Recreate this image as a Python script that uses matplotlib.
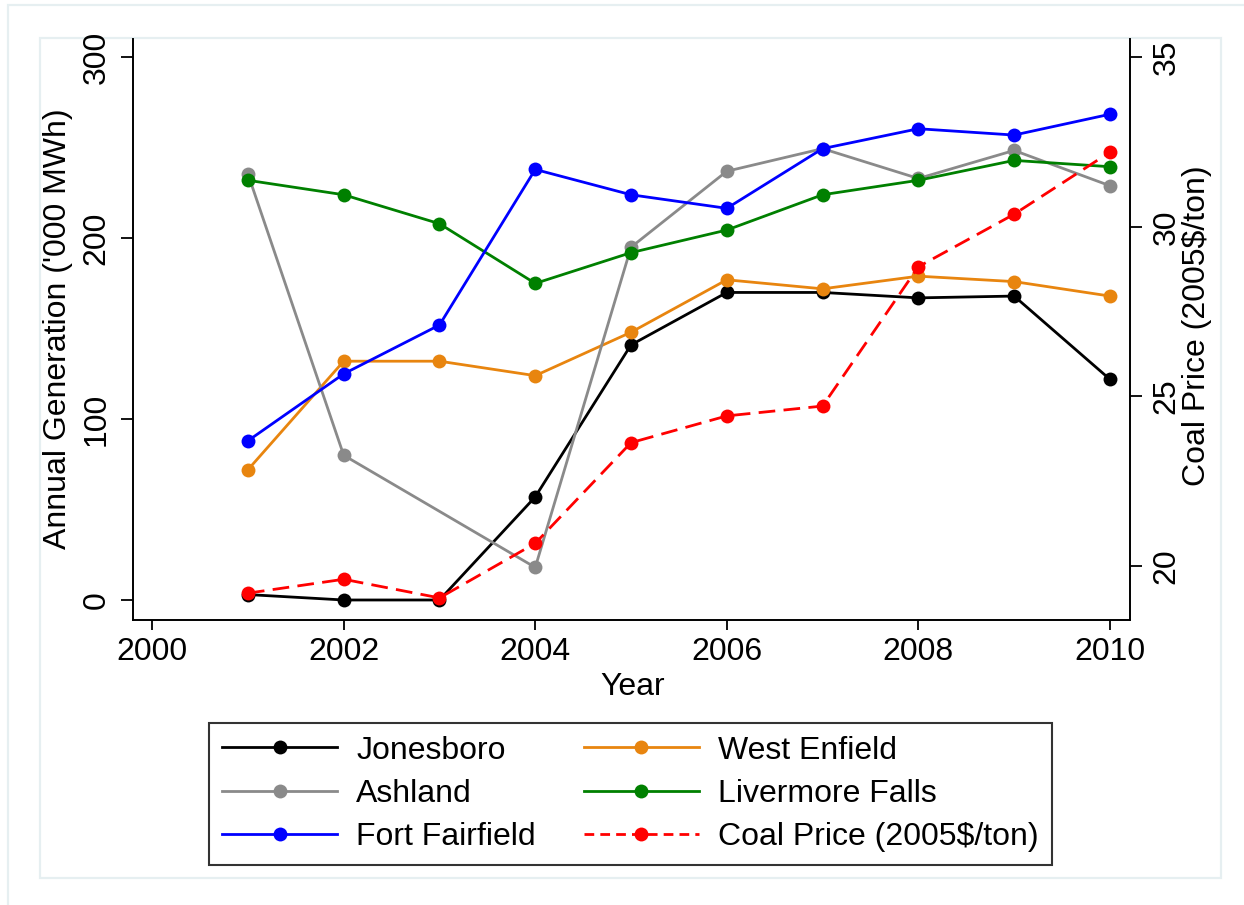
import numpy as np
import matplotlib
matplotlib.use("Agg")
import matplotlib.pyplot as plt
from matplotlib.patches import Rectangle
from matplotlib.lines import Line2D

plt.rcParams['font.family'] = ['Liberation Sans', 'DejaVu Sans']

# Annual generation ('000 MWh) by plant, 2001-2010, and coal price (2005$/ton)
years = [2001, 2002, 2003, 2004, 2005, 2006, 2007, 2008, 2009, 2010]
jonesboro = [3, 0, 0, 57, 141, 170, 170, 167, 168, 122]
west_enfield = [72, 132, 132, 124, 148, 177, 172, 179, 176, 168]
ashland = [235.5, 80, np.nan, 18, 195, 237, 249.5, 233, 248.5, 229]
livermore_falls = [232, 224, 208, 175, 192, 204.5, 224, 232, 243, 239.5]
fort_fairfield = [88, 125, 152, 238, 224, 216.5, 249.5, 260.5, 257, 268.5]
coal_price = [19.19, 19.6, 19.05, 20.66, 23.63, 24.42, 24.71, 28.82, 30.37, 32.2]

x_ticks = [2000, 2002, 2004, 2006, 2008, 2010]
gen_ticks = [0, 100, 200, 300]
price_ticks = [20, 25, 30, 35]

W, H = 1244, 905
fig = plt.figure(figsize=(W / 100, H / 100), dpi=100)
fig.patch.set_facecolor('white')

# faint outer and inner graph-region frames, kept behind everything else
frame_col = '#e6eff1'
fig.add_artist(Rectangle((8 / W, -0.02), 1.05, 1 - 5 / H + 0.02, transform=fig.transFigure,
                         fill=False, edgecolor=frame_col, lw=1.6, zorder=-5))
fig.add_artist(Rectangle((40 / W, 1 - 878 / H), (1221 - 40) / W, (878 - 38) / H,
                         transform=fig.transFigure, fill=False, edgecolor=frame_col, lw=1.6,
                         zorder=-5))

left, right, top, bottom = 133, 1130, 39, 620
ax = fig.add_axes([left / W, 1 - bottom / H, (right - left) / W, (bottom - top) / H])
ax2 = ax.twinx()
ax.set_facecolor('none')

lw = 2.0
ms = 10
series = [
    ("Jonesboro", jonesboro, 'black'),
    ("West Enfield", west_enfield, '#e8850f'),
    ("Ashland", ashland, '#8a8a8a'),
    ("Livermore Falls", livermore_falls, '#008000'),
    ("Fort Fairfield", fort_fairfield, '#0000ff'),
]
handles = {}
for name, vals, col in series:
    y = np.asarray(vals, dtype=float)
    mask = ~np.isnan(y)
    ax.plot(np.asarray(years)[mask], y[mask], color=col, lw=lw, marker='o', ms=ms,
            markeredgewidth=0, solid_joinstyle='miter')
    handles[name] = Line2D([], [], color=col, lw=lw, marker='o', ms=ms, markeredgewidth=0)

ax2.plot(years, coal_price, color='#ff0000', lw=lw, marker='o', ms=ms, markeredgewidth=0,
         ls=(0, (6, 3)))
handles["Coal Price (2005$/ton)"] = Line2D([], [], color='#ff0000', lw=lw, marker='o', ms=ms,
                                            markeredgewidth=0, ls=(0, (3.5, 2.2)))

ax.set_xlim(1999.80, 2010.21)
ax.set_ylim(-11.06, 310.1)
ax2.set_ylim(18.398, 35.54)

ax.set_xticks(x_ticks)
ax.set_yticks(gen_ticks)
ax2.set_yticks(price_ticks)

fs = 23
for a in (ax, ax2):
    for s in a.spines.values():
        s.set_linewidth(1.4)
        s.set_color('black')
    a.spines['top'].set_visible(False)
ax.spines['right'].set_visible(False)
ax2.spines['left'].set_visible(False)
ax2.spines['bottom'].set_visible(False)

ax.tick_params(axis='x', length=7, width=1.3, labelsize=fs, pad=5)
ax.tick_params(axis='y', length=8.6, width=1.3, labelsize=fs, pad=7)
ax2.tick_params(axis='y', length=8.6, width=1.3, labelsize=fs, pad=7)
for lab in ax.get_yticklabels():
    lab.set_rotation(90)
    lab.set_va('center')
for lab in ax2.get_yticklabels():
    lab.set_rotation(90)
    lab.set_va('center')

fig.text(58 / W, 1 - 329 / H, "Annual Generation ('000 MWh)", rotation=90,
         ha='center', va='center', fontsize=fs)
fig.text(1197 / W, 1 - 326 / H, "Coal Price (2005$/ton)", rotation=90,
         ha='center', va='center', fontsize=fs)
fig.text(633 / W, 1 - 687 / H, "Year", ha='center', va='center', fontsize=fs)

order = ["Jonesboro", "Ashland", "Fort Fairfield",
         "West Enfield", "Livermore Falls", "Coal Price (2005$/ton)"]
leg = fig.legend([handles[k] for k in order], order, ncol=2, loc='center',
                 bbox_to_anchor=(630.5 / W, 1 - 794 / H), bbox_transform=fig.transFigure,
                 fontsize=fs, frameon=True, fancybox=False, edgecolor='black',
                 handlelength=3.6, handletextpad=0.6, columnspacing=1.5,
                 labelspacing=0.42, borderpad=0.4, borderaxespad=0)
leg.get_frame().set_linewidth(1.5)

fig.savefig("out.png", dpi=100, facecolor='white')
